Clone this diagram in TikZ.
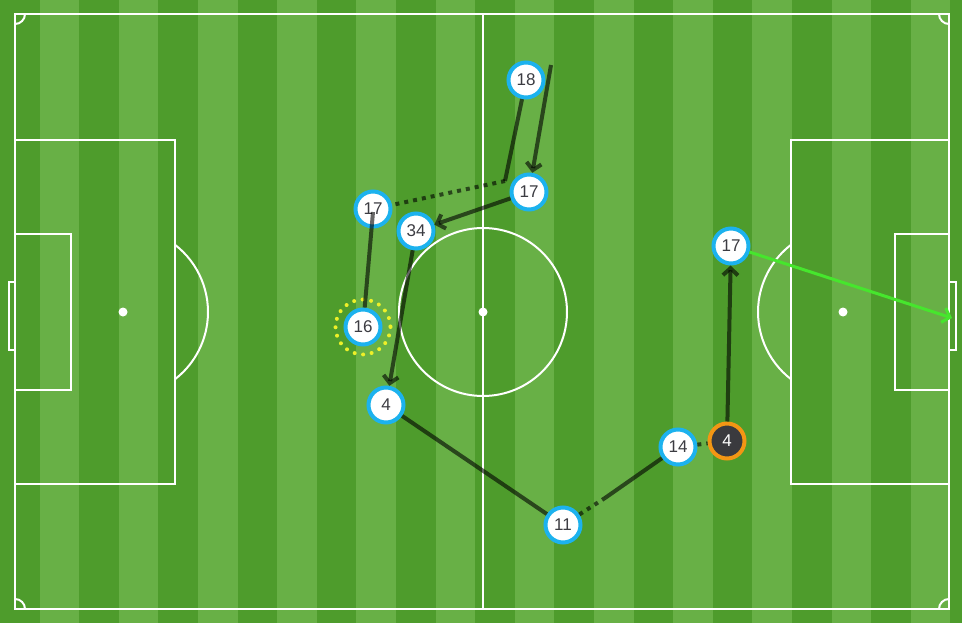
\documentclass[tikz,border=0pt]{standalone}
\usepackage{fontspec}
\setsansfont{Liberation Sans}
\usepackage{tikz}
\usetikzlibrary{arrows.meta}
\definecolor{grassdark}{RGB}{78,156,44}
\definecolor{grasslight}{RGB}{104,176,70}
\definecolor{ringblue}{RGB}{28,178,238}
\definecolor{ringorange}{RGB}{243,150,20}
\definecolor{numgray}{RGB}{60,60,66}
\definecolor{chipdark}{RGB}{58,58,62}
\definecolor{shotgreen}{RGB}{70,230,45}
\definecolor{ringyellow}{RGB}{238,240,40}

\begin{document}
\begin{tikzpicture}[x=1pt,y=-1pt,>={Straight Barb[length=7pt,width=15pt]},
	pitchline/.style={white, line width=2pt},
	player/.style={circle, draw=ringblue, line width=4pt, fill=white, minimum size=35pt, inner sep=0pt, text=numgray, font=\fontsize{17}{17}\sffamily},
	run/.style={black, draw opacity=0.6, line width=4pt},
	carry/.style={run, dash pattern=on 4pt off 5pt},
	shot/.style={shotgreen, line width=3pt}]
	\useasboundingbox (0,0) rectangle (962,623);
	\clip (0,0) rectangle (962,623);
	%Grass
	\fill[grasslight] (0,0) rectangle (962,623);
	\foreach \i in {0,2,...,24}
		\fill[grassdark] ({\i*39.6},0) rectangle ({(\i+1)*39.6},623);
	%Lines
	\draw[pitchline] (15,14) rectangle (949,609);
	\draw[pitchline] (483,14) -- (483,609);
	\draw[pitchline] (483,312) circle (84);
	\fill[white] (483,312) circle (4.5);
	\draw[pitchline] (25,14) arc (0:90:10);
	\draw[pitchline] (949,24) arc (90:180:10);
	\draw[pitchline] (939,609) arc (180:270:10);
	\draw[pitchline] (15,599) arc (270:360:10);
	%Left area
	\draw[pitchline] (15,140) rectangle (175,484);
	\draw[pitchline] (15,234) rectangle (71,390);
	\draw[pitchline] (9,282) rectangle (15,350);
	\fill[white] (123,312) circle (4.5);
	\draw[pitchline] (123,312) ++(-52.3:85) arc (-52.3:52.3:85);
	%Right area
	\draw[pitchline] (791,140) rectangle (949,484);
	\draw[pitchline] (895,234) rectangle (949,390);
	\draw[pitchline] (949,282) rectangle (956,350);
	\fill[white] (843,312) circle (4.5);
	\draw[pitchline] (843,312) ++(127.7:85) arc (127.7:232.3:85);
	%Free ends
	\coordinate (turn) at (505,181);
	\coordinate (start) at (551,65);
	\coordinate (dribble) at (605,498);
	\coordinate (goal) at (952,318);
	%Players
	\node[player] (p18) at (526,80) {18};
	\node[player] (p17a) at (529,192) {17};
	\node[player] (p17b) at (373,209) {17};
	\node[player] (p34) at (416,231) {34};
	\node[player] (p16) at (363,327) {16};
	\node[player] (p4) at (386,405) {4};
	\node[player] (p11) at (563,525) {11};
	\node[player] (p14) at (678,447) {14};
	\node[player, draw=ringorange, fill=chipdark, text=white] (p4b) at (727,441) {4};
	\node[player] (p17c) at (731,246) {17};
	\draw[ringyellow, line width=4pt, line cap=round, dash pattern=on 0pt off 8.6pt] (p16.center) circle (27.5);
	%Moves
	\draw[run] (p18) -- (turn);
	\draw[carry] (turn) -- (p17b);
	\draw[run,->] (start) -- (p17a);
	\draw[run,->] (p17a) -- (p34);
	\draw[run] (p17b.center) ++(0,3) -- (p16);
	\draw[run,->] (p34) -- (p4);
	\draw[run] (p4) -- (p11);
	\draw[carry] (p11) -- (dribble);
	\draw[run] (dribble) -- (p14);
	\draw[carry] (p14) -- (p4b);
	\draw[run,->] (p4b) -- (p17c);
	\draw[shot,->] (p17c) -- (goal);
\end{tikzpicture}
\end{document}
